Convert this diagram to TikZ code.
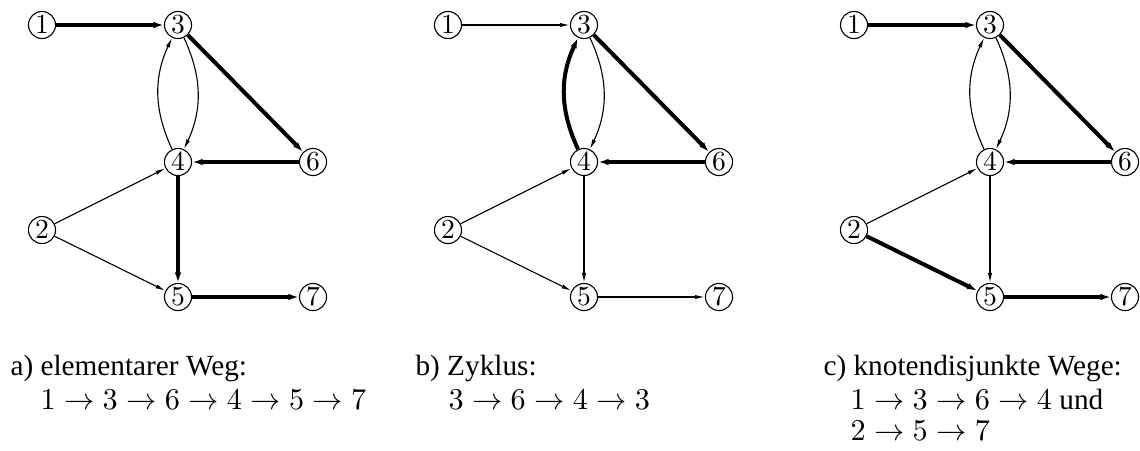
\documentclass[tikz,border=0pt]{standalone}
\usepackage[no-math]{fontspec}
\setmainfont{Liberation Serif}
\usetikzlibrary{arrows.meta}
\newcommand\mkpanel[2]{%
  \begin{scope}[xshift=#2*0.3623pt]
    \node[vtx] (#1n1) at (42,25)  {$1$};
    \node[vtx] (#1n3) at (178,25) {$3$};
    \node[vtx] (#1n4) at (178,162) {$4$};
    \node[vtx] (#1n6) at (313,162) {$6$};
    \node[vtx] (#1n2) at (42,230) {$2$};
    \node[vtx] (#1n5) at (178,297) {$5$};
    \node[vtx] (#1n7) at (313,297) {$7$};
  \end{scope}}
\begin{document}
\begin{tikzpicture}[x=0.3623pt,y=-0.3623pt,
  vtx/.style={circle,draw,line width=0.4pt,minimum size=9.8pt,inner sep=0pt,font=\fontsize{10}{12}\selectfont},
  thinarr/.style={line width=0.4pt,-{Latex[length=3.6pt,width=1.5pt]}},
  fatarr/.style={line width=1.45pt,-{Latex[length=3.8pt,width=2.4pt]}},
  captxt/.style={anchor=base west,inner sep=0pt,font=\fontsize{10.6}{12}\selectfont}]
\useasboundingbox (0,0) rectangle (1140,450);
\mkpanel{a}{0}
\mkpanel{b}{406}
\mkpanel{c}{812}
% panel a
\draw[fatarr] (an1) -- (an3);
\draw[fatarr] (an3) -- (an6);
\draw[fatarr] (an6) -- (an4);
\draw[fatarr] (an4) -- (an5);
\draw[fatarr] (an5) -- (an7);
\draw[thinarr] (an3) to[bend left=25] (an4);
\draw[thinarr] (an4) to[bend left=25] (an3);
\draw[thinarr] (an2) -- (an4);
\draw[thinarr] (an2) -- (an5);
% panel b
\draw[thinarr] (bn1) -- (bn3);
\draw[fatarr] (bn3) -- (bn6);
\draw[fatarr] (bn6) -- (bn4);
\draw[fatarr] (bn4) to[bend left=25] (bn3);
\draw[thinarr] (bn3) to[bend left=25] (bn4);
\draw[thinarr] (bn2) -- (bn4);
\draw[thinarr] (bn2) -- (bn5);
\draw[thinarr] (bn4) -- (bn5);
\draw[thinarr] (bn5) -- (bn7);
% panel c
\draw[fatarr] (cn1) -- (cn3);
\draw[fatarr] (cn3) -- (cn6);
\draw[fatarr] (cn6) -- (cn4);
\draw[fatarr] (cn2) -- (cn5);
\draw[fatarr] (cn5) -- (cn7);
\draw[thinarr] (cn3) to[bend left=25] (cn4);
\draw[thinarr] (cn4) to[bend left=25] (cn3);
\draw[thinarr] (cn2) -- (cn4);
\draw[thinarr] (cn4) -- (cn5);
% captions
\node[captxt] (ca1) at (10,375) {a) elementarer Weg:};
\node[captxt] (ca2) at (40,409) {$1\rightarrow3\rightarrow6\rightarrow4\rightarrow5\rightarrow7$};
\node[captxt] (cb1) at (415,375) {b) Zyklus:};
\node[captxt] (cb2) at (448,409) {$3\rightarrow6\rightarrow4\rightarrow3$};
\node[captxt] (cc1) at (823,375) {c) knotendisjunkte Wege:};
\node[captxt] (cc2) at (850,409) {$1\rightarrow3\rightarrow6\rightarrow4$ und};
\node[captxt] (cc3) at (850,440) {$2\rightarrow5\rightarrow7$};
\end{tikzpicture}
\end{document}
